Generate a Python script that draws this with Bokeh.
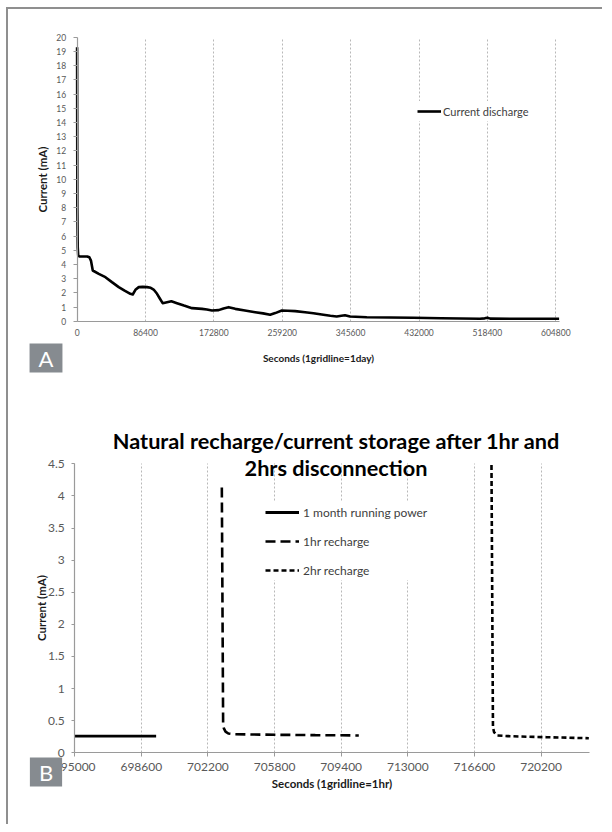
from bokeh.plotting import figure
from bokeh.models import (FixedTicker, NumeralTickFormatter, Legend, LegendItem,
                          Label, Range1d, Grid)
from bokeh.layouts import column
from bokeh.embed import file_html
from bokeh.resources import INLINE

FONT = "Lato"
TICK_COLOR = "#595959"
AXIS_COLOR = "#9a9a9a"
GRID_COLOR = "#b8b8b8"

# ---------------- Chart A data ----------------
a_seconds = [0, 300, 800, 1400, 3000, 12700, 15500, 17500, 19800, 27400, 35800,
             44000, 52600, 60000, 67300, 70300, 73700, 77900, 83000, 88400,
             93000, 96700, 101000, 104500, 108100, 113600, 119100, 126200,
             135000, 145200, 157800, 164000, 170400, 178800, 185000, 191400,
             199800, 212000, 225000, 235000, 243900, 250300, 258700, 266000,
             275500, 288100, 298600, 311200, 320000, 328000, 334000, 338500,
             344800, 366000, 395000, 424800, 460000, 509000, 515000, 518400,
             522000, 560000, 609000]
a_current = [19.3, 8.0, 5.2, 4.63, 4.56, 4.56, 4.5, 4.27, 3.57, 3.33, 3.1,
             2.75, 2.4, 2.15, 1.93, 1.88, 2.21, 2.4, 2.42, 2.4,
             2.35, 2.23, 1.93, 1.6, 1.27, 1.34, 1.41, 1.27,
             1.1, 0.92, 0.87, 0.82, 0.75, 0.78, 0.9, 0.99,
             0.87, 0.75, 0.63, 0.55, 0.45, 0.57, 0.75, 0.74,
             0.71, 0.63, 0.56, 0.45, 0.38, 0.33, 0.38, 0.42,
             0.33, 0.28, 0.26, 0.24, 0.21, 0.17, 0.2, 0.25,
             0.18, 0.17, 0.17]
a_xlim = (0, 609000)
a_ylim = (0, 20)
a_xticks = [0, 86400, 172800, 259200, 345600, 432000, 518400, 604800]
a_yticks = [0, 1, 2, 3, 4, 5, 6, 7, 8, 9, 10, 11, 12, 13, 14, 15, 16, 17, 18, 19, 20]
a_series = "Current discharge"

# ---------------- Chart B data ----------------
b_month_x = [695000, 699400]
b_month_y = [0.26, 0.26]
b_1hr_x = [702950, 703020, 703060, 703150, 703300, 703600, 704500, 706000, 708000, 710350]
b_1hr_y = [4.13, 0.45, 0.38, 0.33, 0.30, 0.29, 0.285, 0.28, 0.275, 0.27]
b_2hr_x = [717520, 717600, 717660, 717840, 718400, 719500, 720500, 721700, 722780]
b_2hr_y = [4.48, 0.40, 0.32, 0.27, 0.26, 0.25, 0.243, 0.235, 0.227]
b_xlim = (695000, 722800)
b_ylim = (0, 4.5)
b_xticks = [695000, 698600, 702200, 705800, 709400, 713000, 716600, 720200]
b_yticks = [0, 0.5, 1, 1.5, 2, 2.5, 3, 3.5, 4, 4.5]
b_series = ["1 month running power", "1hr recharge", "2hr recharge"]
b_title = ["Natural recharge/current storage after 1hr and", "2hrs disconnection"]

HAS_CROSS = "cross_bounds" in Grid.properties()


def make_fig(W, H, px_left, px_right, px_top, px_bottom, xlim, ylim):
    """Whole canvas is the frame; the data box (xlim, ylim) occupies the given pixels."""
    kx = (px_right - px_left) / (xlim[1] - xlim[0])
    ky = (px_bottom - px_top) / (ylim[1] - ylim[0])
    xr = Range1d(xlim[0] - px_left / kx, xlim[1] + (W - px_right) / kx)
    yr = Range1d(ylim[0] - (H - px_bottom) / ky, ylim[1] + px_top / ky)
    p = figure(frame_width=W, frame_height=H, min_border=0,
               x_range=xr, y_range=yr, output_backend="svg",
               toolbar_location=None, tools="")
    p.outline_line_color = None
    p.background_fill_color = "white"
    return p


def style_axes(p, xlim, ylim, xticks, yticks, xfmt, yfmt, tick_size, title_size):
    p.ygrid.visible = False
    xa, ya = p.xaxis[0], p.yaxis[0]
    xa.fixed_location = ylim[0]
    ya.fixed_location = xlim[0]
    xa.bounds = xlim
    ya.bounds = ylim
    xa.ticker = FixedTicker(ticks=xticks)
    ya.ticker = FixedTicker(ticks=yticks)
    xa.formatter = NumeralTickFormatter(format=xfmt)
    ya.formatter = NumeralTickFormatter(format=yfmt)
    if HAS_CROSS:
        p.xgrid.cross_bounds = ylim
        p.xgrid.grid_line_color = GRID_COLOR
        p.xgrid.grid_line_dash = "2 2"
        p.xgrid.grid_line_width = 1
    else:
        p.xgrid.visible = False
        gt = [t for t in xticks if t != xlim[0]]
        p.segment(x0=gt, y0=[ylim[0]] * len(gt), x1=gt, y1=[ylim[1]] * len(gt),
                  line_color=GRID_COLOR, line_dash="2 2", line_width=1)
    for ax in (xa, ya):
        ax.axis_line_color = AXIS_COLOR
        ax.axis_line_width = 1.2
        ax.major_tick_line_color = AXIS_COLOR
        ax.minor_tick_line_color = None
        ax.major_tick_in = 0
        ax.major_label_text_font = FONT
        ax.major_label_text_font_size = tick_size
        ax.major_label_text_color = TICK_COLOR
        ax.axis_label_text_font = FONT
        ax.axis_label_text_font_style = "bold"
        ax.axis_label_text_font_size = title_size
        ax.axis_label_text_color = "#1a1a1a"
    return xa, ya


def box_label(text, cx, cy):
    return Label(x=cx, y=cy, x_units="screen", y_units="screen", text=text,
                 text_align="center", text_baseline="middle", text_font=FONT,
                 text_font_size="22px", text_color="white",
                 background_fill_color="#868b90", background_fill_alpha=1.0,
                 padding=dict(left=9, right=9, top=1, bottom=1))


# ---------------- Figure A ----------------
WA, HA = 594, 411
p1 = make_fig(WA, HA, 68.6, 550.6, 27.7, 311.7, a_xlim, a_ylim)
xa, ya = style_axes(p1, a_xlim, a_ylim, a_xticks, a_yticks, "0", "0", "8.5px", "10px")
xa.major_tick_out = 0
xa.major_label_standoff = 8
xa.axis_label = "Seconds (1gridline=1day)"
xa.axis_label_standoff = 12
ya.major_tick_out = 4
ya.major_label_standoff = 7
ya.axis_label = "Current (mA)"
ya.axis_label_standoff = 5
ya.axis_label_text_font_size = "11.5px"

ra = p1.line(a_seconds, a_current, line_color="black", line_width=2.6, line_join="round")
leg_a = Legend(items=[LegendItem(label=a_series, renderers=[ra])],
               location=(409, 299), margin=0, padding=8, spacing=0,
               glyph_width=24, glyph_height=20, label_height=20, label_standoff=2,
               label_text_font=FONT, label_text_font_size="11px", label_text_color="#404040",
               background_fill_color="white", background_fill_alpha=1.0,
               border_line_color=None)
p1.add_layout(leg_a)
p1.add_layout(box_label("A", 37.5, HA - 348.5))

# ---------------- Figure B ----------------
WB, HB = 594, 404
p2 = make_fig(WB, HB, 66.2, 580.7, 43.3, 332.3, b_xlim, b_ylim)
xb, yb = style_axes(p2, b_xlim, b_ylim, b_xticks, b_yticks, "0", "0.[0]", "12px", "11.5px")
xb.major_tick_out = 4
xb.major_label_standoff = 6
xb.axis_label = "Seconds (1gridline=1hr)"
xb.axis_label_standoff = 3
yb.major_tick_out = 3
yb.major_label_standoff = 7
yb.axis_label = "Current (mA)"
yb.axis_label_standoff = -3

r1 = p2.line(b_month_x, b_month_y, line_color="black", line_width=2.8)
r2 = p2.line(b_1hr_x, b_1hr_y, line_color="black", line_width=2.6, line_dash="10 5")
r3 = p2.line(b_2hr_x, b_2hr_y, line_color="black", line_width=2.6, line_dash="5 3")
leg_b = Legend(items=[LegendItem(label=b_series[0], renderers=[r1]),
                      LegendItem(label=b_series[1], renderers=[r2]),
                      LegendItem(label=b_series[2], renderers=[r3])],
               location=(257, 244), margin=0, padding=8, spacing=9,
               glyph_width=34, glyph_height=20, label_height=20, label_standoff=4,
               label_text_font=FONT, label_text_font_size="12px", label_text_color="#404040",
               background_fill_color="white", background_fill_alpha=1.0,
               border_line_color=None)
p2.add_layout(leg_b)
for line_text, cx, cy in zip(b_title, [336 - 8, 327.5], [20, 47.7]):
    p2.add_layout(Label(x=cx, y=HB - cy, x_units="screen", y_units="screen", text=line_text,
                        text_align="center", text_baseline="middle", text_font=FONT,
                        text_font_style="bold", text_font_size="21.7px", text_color="black"))
p2.add_layout(box_label("B", 37.5, HB - 351.5))

layout = column(p1, p2, spacing=0,
                styles={"margin-left": "6px", "margin-top": "7px",
                        "border-top": "2px solid #8f8f8f", "border-left": "2px solid #8f8f8f"})

open("out.html", "w").write(file_html(layout, INLINE))
